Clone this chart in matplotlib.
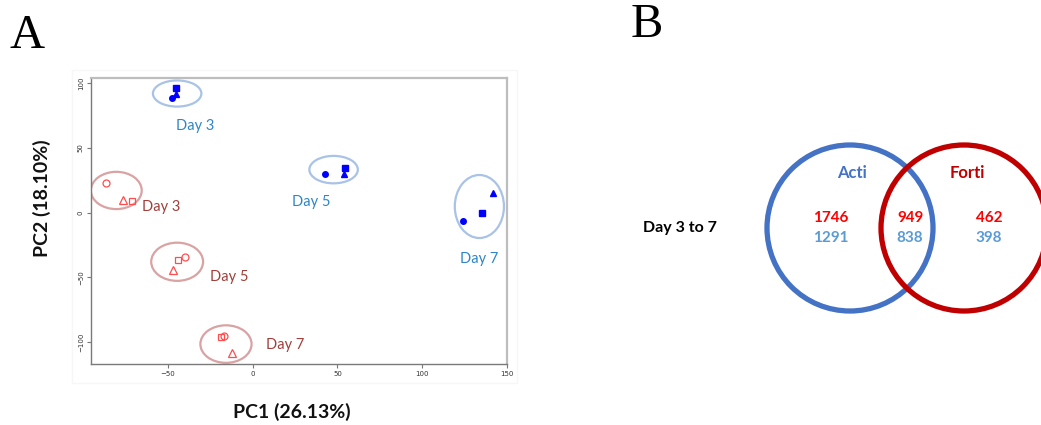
import matplotlib.pyplot as plt
from matplotlib.patches import Ellipse, Circle, Rectangle

# PCA scores, one value per time point (Day 3, Day 5, Day 7)
days = ["Day 3", "Day 5", "Day 7"]

acti_circle_x = [-47.7, 42.4, 124.3]
acti_circle_y = [88.9, 29.8, -6.2]
acti_square_x = [-45.0, 54.2, 135.3]
acti_square_y = [96.0, 34.2, 0.0]
acti_tri_x = [-45.0, 53.8, 142.0]
acti_tri_y = [91.5, 29.8, 15.3]

forti_circle_x = [-86.8, -40.0, -17.0]
forti_circle_y = [22.5, -34.7, -95.6]
forti_square_x = [-71.4, -44.2, -18.7]
forti_square_y = [9.3, -36.3, -96.4]
forti_tri_x = [-76.5, -47.3, -12.2]
forti_tri_y = [9.8, -44.6, -108.8]

pc1_label = "PC1 (26.13%)"
pc2_label = "PC2 (18.10%)"

# Venn counts: regions Acti only, shared, Forti only
venn_top = [1746, 949, 462]
venn_bottom = [1291, 838, 398]
venn_row_label = "Day 3 to 7"

# group outlines (centre x, centre y, width, height) and label anchors
acti_rings = [(-44.6, 92.0, 28.6, 20.2), (47.7, 33.2, 28.6, 21.2), (133.7, 4.7, 29.0, 48.7)]
forti_rings = [(-80.5, 17.1, 30.0, 28.8), (-44.6, -38.0, 30.6, 29.5), (-15.8, -101.6, 30.2, 29.0)]
acti_label_pos = [(-34.0, 66.8), (34.3, 7.8), (133.5, -35.5)]
forti_label_pos = [(-53.8, 4.7), (-14.0, -50.0), (19.3, -102.0)]

W, H = 1041, 425


def px_axes(left, top, right, bottom):
    return fig.add_axes([left / W, (H - bottom) / H, (right - left) / W, (bottom - top) / H])


fig = plt.figure(figsize=(W / 100, H / 100), dpi=100)

# faint frame of the embedded R plot
fig.patches.append(Rectangle((72 / W, (H - 383) / H), (517 - 72) / W, (383 - 70) / H,
                             transform=fig.transFigure, fill=False,
                             edgecolor="#f7f7f7", lw=1.0))

# ---- panel A: PCA ----
ax = px_axes(90.7, 78, 507, 364)

acti_col = "#0000ff"
forti_col = "#ff4d4d"
ax.plot(acti_circle_x, acti_circle_y, "o", color=acti_col, ms=4)
ax.plot(acti_square_x, acti_square_y, "s", color=acti_col, ms=4.5)
ax.plot(acti_tri_x, acti_tri_y, "^", color=acti_col, ms=4.5)
ax.plot(forti_circle_x, forti_circle_y, "o", mfc="none", mec=forti_col, ms=5, mew=0.9)
ax.plot(forti_square_x, forti_square_y, "s", mfc="none", mec=forti_col, ms=4.5, mew=0.9)
ax.plot(forti_tri_x, forti_tri_y, "^", mfc="none", mec=forti_col, ms=5.5, mew=0.9)

for (cx, cy, w, h) in acti_rings:
    ax.add_patch(Ellipse((cx, cy), w, h, fill=False, edgecolor="#a9c3e6", lw=1.6))
for (cx, cy, w, h) in forti_rings:
    ax.add_patch(Ellipse((cx, cy), w, h, fill=False, edgecolor="#d9a3a3", lw=1.6))

for d, (lx, ly) in zip(days, acti_label_pos):
    ax.text(lx, ly, d, color="#2f86c6", fontsize=10.5, family="Lato",
            ha="center", va="center")
for d, (lx, ly) in zip(days, forti_label_pos):
    ax.text(lx, ly, d, color="#a0403c", fontsize=10.5, family="Lato",
            ha="center", va="center")

ax.set_xlim(-95.6, 150)
ax.set_ylim(-117, 104)
ax.set_xticks([-50, 0, 50, 100, 150])
ax.set_yticks([-100, -50, 0, 50, 100])
ax.tick_params(labelsize=5, length=3, width=0.8, color="#777777", labelcolor="#333333", pad=2)
for lab in ax.get_yticklabels():
    lab.set_rotation(90)
    lab.set_va("center")
for side in ["left", "bottom"]:
    ax.spines[side].set_color("#7a7a7a")
    ax.spines[side].set_linewidth(1.0)
for side in ["top", "right"]:
    ax.spines[side].set_color("#bdbdbd")
    ax.spines[side].set_linewidth(1.6)

fig.text(292 / W, 1 - 412 / H, pc1_label, ha="center", va="center",
         fontsize=14, fontweight="bold", family="Lato", color="#111111")
fig.text(42 / W, 1 - 198 / H, pc2_label, ha="center", va="center", rotation=90,
         fontsize=14, fontweight="bold", family="Lato", color="#111111")

# ---- panel B: Venn diagram ----
bx = px_axes(620, 120, 1041, 330)
bx.set_xlim(0, 421)
bx.set_ylim(0, 210)
bx.axis("off")

bx.add_patch(Circle((230, 102), 83, fill=False, edgecolor="#4472c4", lw=3.8, clip_on=False))
bx.add_patch(Circle((344, 102), 83, fill=False, edgecolor="#c00000", lw=3.8, clip_on=False))

bx.text(232, 157, "Acti", color="#4472c4", fontsize=12, fontweight="bold",
        family="Lato", ha="center", va="center")
bx.text(347, 157, "Forti", color="#c00000", fontsize=12, fontweight="bold",
        family="Lato", ha="center", va="center")
bx.text(60, 102, venn_row_label, color="black", fontsize=11.5, fontweight="bold",
        family="Lato", ha="center", va="center")

region_x = [211, 290, 369]
for x, a, b in zip(region_x, venn_top, venn_bottom):
    bx.text(x, 112, str(a), color="#ff0000", fontsize=11, fontweight="bold",
            family="Lato", ha="center", va="center")
    bx.text(x, 92, str(b), color="#5b9bd5", fontsize=11, fontweight="bold",
            family="Lato", ha="center", va="center")

# panel letters
fig.text(9 / W, 1 - 48 / H, "A", family="Liberation Serif", fontsize=35, va="baseline")
fig.text(631 / W, 1 - 37 / H, "B", family="Liberation Serif", fontsize=35, va="baseline")

fig.savefig("out.png", dpi=100)
